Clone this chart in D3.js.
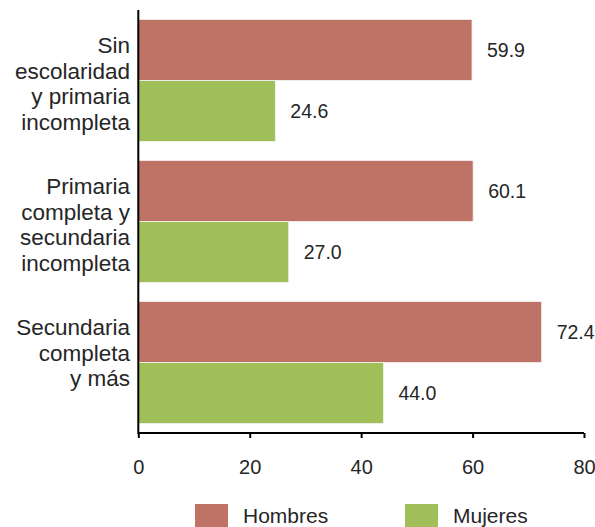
<!DOCTYPE html>
<html><head><meta charset="utf-8">
<script src="https://cdn.jsdelivr.net/npm/d3@7"></script>
<style>body{margin:0;background:#fff}svg{display:block}text{font-family:"Liberation Sans",Arial,sans-serif;fill:#262626}</style>
</head><body>
<script>
const categories = [
  ["Sin","escolaridad","y primaria","incompleta"],
  ["Primaria","completa y","secundaria","incompleta"],
  ["Secundaria","completa","y más"]
];
const series = ["Hombres","Mujeres"];
const hombres = [59.9, 60.1, 72.4];
const mujeres = [24.6, 27.0, 44.0];
const xTicks = [0,20,40,60,80];
const colors = ["#BE7366","#A0BF58"];

const W=595,H=527;
const svg=d3.select("body").append("svg").attr("width",W).attr("height",H);
const x=d3.scaleLinear().domain([0,80]).range([138.3,584]);
const y=d3.scaleBand().domain(d3.range(categories.length)).range([10,433]).paddingInner(0.135).paddingOuter(0.067);
const sub=d3.scaleBand().domain(series).range([0,y.bandwidth()]);
const data=categories.map((c,i)=>({i,vals:[hombres[i],mujeres[i]]}));

const g=svg.selectAll("g.grp").data(data).join("g").attr("transform",d=>`translate(0,${y(d.i)})`);
g.selectAll("rect").data(d=>d.vals.map((v,k)=>({v,k}))).join("rect")
  .attr("x",x(0)).attr("y",d=>sub(series[d.k])).attr("width",d=>x(d.v)-x(0)).attr("height",sub.bandwidth())
  .attr("fill",d=>colors[d.k]).attr("stroke","#f3f3f3").attr("stroke-width",0.8);
g.selectAll("text.val").data(d=>d.vals.map((v,k)=>({v,k}))).join("text").attr("class","val")
  .attr("x",d=>x(d.v)+15).attr("y",d=>sub(series[d.k])+sub.bandwidth()/2).attr("dy","0.35em")
  .attr("font-size",19.5).text(d=>d.v.toFixed(1));

// category labels
const lh=25.5;
svg.selectAll("text.cat").data(categories).join("text").attr("class","cat")
  .attr("text-anchor","end").attr("font-size",22.5)
  .each(function(lines,i){
    const t=d3.select(this);
    const top=y(i)+26;
    lines.forEach((l,j)=>t.append("tspan").attr("x",130).attr("y",top+j*lh).attr("dy","0.35em").text(l));
  });

// x axis
const ax=svg.append("g").attr("transform","translate(0,433)")
  .call(d3.axisBottom(x).tickValues(xTicks).tickSize(5).tickPadding(22).tickFormat(d3.format("d")));
ax.select(".domain").attr("stroke","#000").attr("stroke-width",2).attr("d",`M${x(0)},0H${x(80)}`);
ax.selectAll(".tick line").attr("stroke","#000").attr("stroke-width",2);
ax.selectAll(".tick text").attr("font-size",20).attr("font-family","Liberation Sans, Arial, sans-serif").attr("fill","#262626");
// y axis line
svg.append("line").attr("x1",x(0)).attr("x2",x(0)).attr("y1",10).attr("y2",434).attr("stroke","#000").attr("stroke-width",2);

// legend
const lg=svg.selectAll("g.leg").data(series).join("g").attr("transform",(d,i)=>`translate(${[195,405][i]},504)`);
lg.append("rect").attr("width",33).attr("height",24).attr("fill",(d,i)=>colors[i]);
lg.append("text").attr("x",48).attr("y",12).attr("dy","0.35em").attr("font-size",21).text(d=>d);
</script>
</body></html>
